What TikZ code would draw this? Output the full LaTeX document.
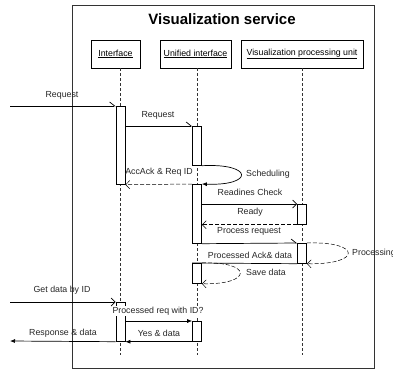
\documentclass[tikz,border=0pt]{standalone}
\usepackage{fontspec}
\setmainfont{Liberation Sans}
\usetikzlibrary{arrows.meta}

\tikzset{
  frame/.style={draw=black!80, line width=0.8pt},
  head/.style={draw, line width=0.7pt, minimum height=28pt, inner sep=0pt, font=\fontsize{8.8}{10}\selectfont},
  life/.style={draw=black!80, line width=0.5pt, dash pattern=on 3pt off 2pt},
  bar/.style={draw, fill=white, line width=0.7pt, minimum width=9pt, inner sep=0pt, anchor=north},
  lbl/.style={font=\fontsize{8.8}{10}\selectfont, inner sep=1pt, text=black!85},
  msg/.style={line width=0.7pt},
  ret/.style={line width=0.5pt, dash pattern=on 4pt off 2pt},
  half/.style={-{Straight Barb[harpoon, length=5pt, width=8pt]}},
  open/.style={-{Straight Barb[length=4pt, width=8pt]}},
  solid tip/.style={-{Latex[length=5pt, width=4pt]}},
}

\begin{document}
\begin{tikzpicture}[x=1pt, y=-1pt]
\useasboundingbox (0,0) rectangle (393,370);

% service frame and title
\draw[frame] (72,5) rectangle (374,368);
\node[font=\fontsize{15}{17}\selectfont\bfseries] (title) at (222,19) {Visualization service};

% lifeline heads
\node[head, minimum width=49pt] (ihead) at (115.5,54) {\underline{Interface}};
\node[head, minimum width=71pt] (uhead) at (195.5,54) {\underline{Unified interface}};
\node[head, minimum width=122pt] (vhead) at (302,54) {\underline{Visualization processing unit}};

\coordinate (lend) at (0,355);
\coordinate (ix) at (120.5,0);
\coordinate (ux) at (197,0);
\coordinate (vx) at (302,0);

% lifelines
\draw[life] (ihead.south -| ix) -- (lend -| ix);
\draw[life] (uhead.south -| ux) -- (lend -| ux);
\draw[life] (vhead.south -| vx) -- (lend -| vx);

% activation bars
\node[bar, minimum height=78pt] (ib1) at (120.5,106) {};
\node[bar, minimum height=39pt] (ub1) at (197,126) {};
\node[bar, minimum height=59pt] (ub2) at (197,184) {};
\node[bar, minimum height=20pt] (vb1) at (302,204) {};
\node[bar, minimum height=20pt] (vb2) at (302,243) {};
\node[bar, minimum height=20pt] (ub3) at (197,263) {};
\node[bar, minimum height=39pt] (ib2) at (120.5,302) {};
\node[bar, minimum height=20pt] (ub4) at (197,321) {};

% outer ends of external messages
\coordinate (in1) at (10,106);
\coordinate (in2) at (10,302);
\coordinate (out1) at (10,341);

% messages
\draw[msg, half] (in1) -- (ib1.north west);
\draw[msg, half] (ub1.north west -| ib1.east) -- (ub1.north west);
\draw[msg, solid tip] (ub1.south east) .. controls (254,163) and (254,186) .. (ub2.north east);
\draw[ret, open] (ub2.north west) -- (ib1.south east);
\draw[msg, open] (vb1.north west -| ub2.east) -- (vb1.north west);
\draw[ret, open] (vb1.south west) -- (vb1.south west -| ub2.east);
\draw[msg, half] (ub2.south east) -- (vb2.north west);
\draw[ret, open] (vb2.north east) .. controls (362,241) and (362,265) .. (vb2.south east);
\draw[msg] (vb2.south west) -- (ub3.north west);
\draw[ret, open] (ub3.north east) .. controls (253,261) and (253,285) .. (ub3.south east);
\draw[msg, open] (in2) -- (ib2.north west);
\draw[msg, solid tip] (ub4.north west -| ib2.east) -- (ub4.north west);
\draw[msg, solid tip] (ub4.south west) -- (ib2.south east);
\draw[msg, solid tip] (ib2.south west) -- (out1);

% message labels
\node[lbl] (l1) at (62,95) {Request};
\node[lbl] (l2) at (158,115) {Request};
\node[lbl] (l3) at (159,172) {AccAck \& Req ID};
\node[lbl] (l4) at (268,174) {Scheduling};
\node[lbl] (l5) at (250,192) {Readines Check};
\node[lbl] (l6) at (250,212) {Ready};
\node[lbl] (l7) at (249,231) {Process request};
\node[lbl, anchor=west] (l8) at (351,253) {Processing};
\node[lbl] (l9) at (250,255) {Processed Ack\& data};
\node[lbl] (l10) at (266,272) {Save data};
\node[lbl] (l11) at (62,290) {Get data by ID};
\node[lbl, fill=white] (l12) at (158,311) {Processed req with ID?};
\node[lbl] (l13) at (159,333) {Yes \& data};
\node[lbl] (l14) at (63,333) {Response \& data};
\end{tikzpicture}
\end{document}
